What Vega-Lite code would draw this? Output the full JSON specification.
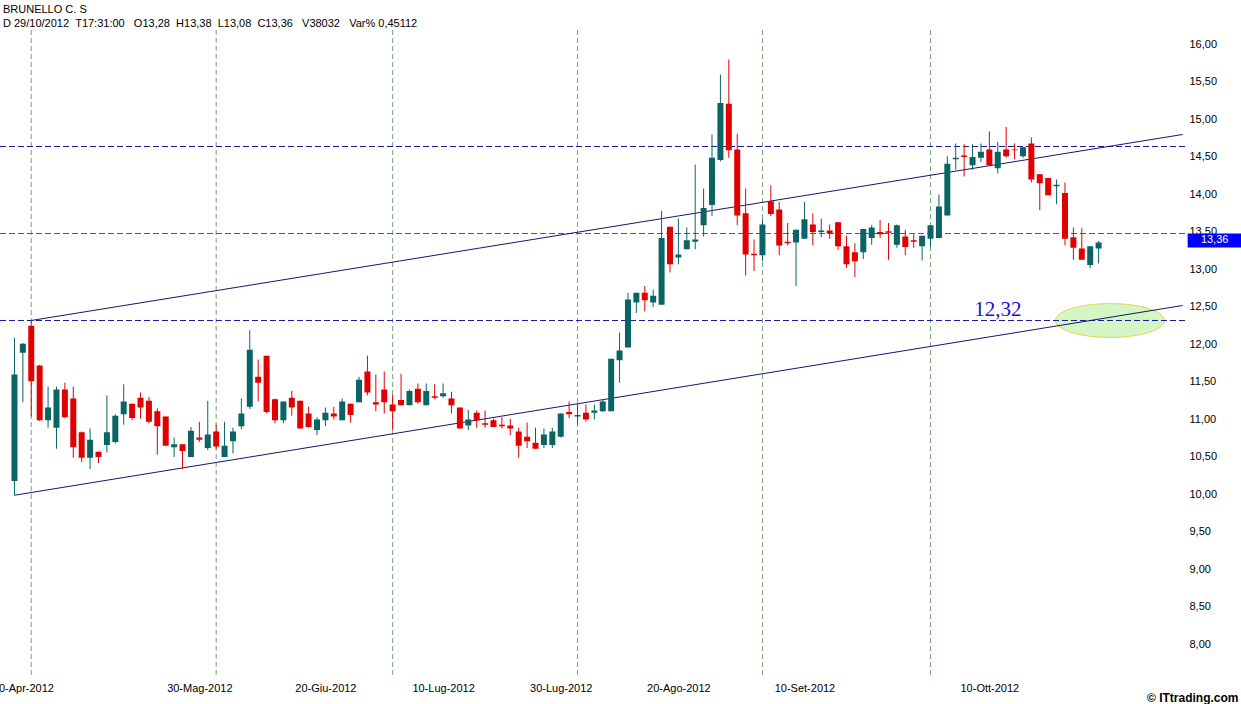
{
  "$schema": "https://vega.github.io/schema/vega-lite/v6.json",
  "width": 1185,
  "height": 645,
  "autosize": {"type": "none"},
  "padding": {"left": 0, "top": 30, "right": 56, "bottom": 29},
  "background": "white",
  "title": {
    "text": "BRUNELLO C. S",
    "subtitle": "D 29/10/2012\u00a0\u00a0T17:31:00\u00a0\u00a0\u00a0O13,28\u00a0\u00a0H13,38\u00a0\u00a0L13,08\u00a0\u00a0C13,36\u00a0\u00a0\u00a0V38032\u00a0\u00a0\u00a0Var% 0,45112",
    "anchor": "start",
    "frame": "group",
    "dx": 3,
    "offset": 1,
    "font": "Liberation Sans",
    "fontSize": 11,
    "fontWeight": "normal",
    "color": "#000000",
    "subtitleFont": "Liberation Sans",
    "subtitleFontSize": 11,
    "subtitleColor": "#000000",
    "subtitlePadding": 3
  },
  "datasets": {
    "candles": [
      {"date": "2012-04-27", "open": 10.18, "high": 12.09, "low": 9.99, "close": 11.6},
      {"date": "2012-04-30", "open": 11.89, "high": 12.02, "low": 11.23, "close": 12.01},
      {"date": "2012-05-02", "open": 12.25, "high": 12.32, "low": 11.04, "close": 11.51},
      {"date": "2012-05-03", "open": 11.72, "high": 11.73, "low": 10.98, "close": 10.99},
      {"date": "2012-05-04", "open": 10.99, "high": 11.44, "low": 10.89, "close": 11.16},
      {"date": "2012-05-07", "open": 10.89, "high": 11.44, "low": 10.61, "close": 11.4},
      {"date": "2012-05-08", "open": 11.4, "high": 11.49, "low": 11.02, "close": 11.03},
      {"date": "2012-05-09", "open": 11.28, "high": 11.44, "low": 10.49, "close": 10.63},
      {"date": "2012-05-10", "open": 10.83, "high": 10.84, "low": 10.43, "close": 10.49},
      {"date": "2012-05-11", "open": 10.49, "high": 10.88, "low": 10.34, "close": 10.73},
      {"date": "2012-05-14", "open": 10.57, "high": 10.57, "low": 10.42, "close": 10.5},
      {"date": "2012-05-15", "open": 10.66, "high": 11.32, "low": 10.56, "close": 10.83},
      {"date": "2012-05-16", "open": 10.7, "high": 11.07, "low": 10.68, "close": 11.05},
      {"date": "2012-05-17", "open": 11.07, "high": 11.47, "low": 10.93, "close": 11.24},
      {"date": "2012-05-18", "open": 11.21, "high": 11.21, "low": 10.99, "close": 11.02},
      {"date": "2012-05-21", "open": 11.29, "high": 11.36, "low": 11.01, "close": 11.16},
      {"date": "2012-05-22", "open": 11.25, "high": 11.3, "low": 10.95, "close": 10.97},
      {"date": "2012-05-23", "open": 11.11, "high": 11.15, "low": 10.53, "close": 10.91},
      {"date": "2012-05-24", "open": 11.04, "high": 11.04, "low": 10.65, "close": 10.65},
      {"date": "2012-05-25", "open": 10.63, "high": 10.76, "low": 10.5, "close": 10.67},
      {"date": "2012-05-28", "open": 10.67, "high": 10.67, "low": 10.34, "close": 10.58},
      {"date": "2012-05-29", "open": 10.5, "high": 10.9, "low": 10.5, "close": 10.85},
      {"date": "2012-05-30", "open": 10.76, "high": 10.97, "low": 10.7, "close": 10.73},
      {"date": "2012-05-31", "open": 10.62, "high": 11.25, "low": 10.59, "close": 10.8},
      {"date": "2012-06-01", "open": 10.84, "high": 10.93, "low": 10.61, "close": 10.64},
      {"date": "2012-06-04", "open": 10.5, "high": 10.97, "low": 10.5, "close": 10.65},
      {"date": "2012-06-05", "open": 10.71, "high": 10.89, "low": 10.55, "close": 10.84},
      {"date": "2012-06-06", "open": 10.91, "high": 11.28, "low": 10.87, "close": 11.08},
      {"date": "2012-06-07", "open": 11.17, "high": 12.19, "low": 11.14, "close": 11.93},
      {"date": "2012-06-08", "open": 11.57, "high": 11.8, "low": 11.24, "close": 11.49},
      {"date": "2012-06-11", "open": 11.85, "high": 11.85, "low": 11.08, "close": 11.1},
      {"date": "2012-06-12", "open": 11.27, "high": 11.28, "low": 10.95, "close": 10.99},
      {"date": "2012-06-13", "open": 10.99, "high": 11.24, "low": 10.95, "close": 11.24},
      {"date": "2012-06-14", "open": 11.29, "high": 11.38, "low": 11.05, "close": 11.16},
      {"date": "2012-06-15", "open": 11.25, "high": 11.25, "low": 10.88, "close": 10.88},
      {"date": "2012-06-18", "open": 11.08, "high": 11.17, "low": 10.89, "close": 10.9},
      {"date": "2012-06-19", "open": 10.86, "high": 11.03, "low": 10.79, "close": 11.0},
      {"date": "2012-06-20", "open": 10.99, "high": 11.16, "low": 10.91, "close": 11.09},
      {"date": "2012-06-21", "open": 11.08, "high": 11.17, "low": 11.0, "close": 11.04},
      {"date": "2012-06-22", "open": 10.99, "high": 11.28, "low": 10.99, "close": 11.24},
      {"date": "2012-06-25", "open": 11.21, "high": 11.21, "low": 10.96, "close": 11.06},
      {"date": "2012-06-26", "open": 11.23, "high": 11.57, "low": 11.23, "close": 11.53},
      {"date": "2012-06-27", "open": 11.64, "high": 11.85, "low": 11.32, "close": 11.36},
      {"date": "2012-06-28", "open": 11.23, "high": 11.6, "low": 11.11, "close": 11.2},
      {"date": "2012-06-29", "open": 11.4, "high": 11.64, "low": 11.08, "close": 11.23},
      {"date": "2012-07-02", "open": 11.2, "high": 11.33, "low": 10.86, "close": 11.11},
      {"date": "2012-07-03", "open": 11.26, "high": 11.61, "low": 11.19, "close": 11.19},
      {"date": "2012-07-04", "open": 11.19, "high": 11.4, "low": 11.19, "close": 11.38},
      {"date": "2012-07-05", "open": 11.41, "high": 11.48, "low": 11.21, "close": 11.23},
      {"date": "2012-07-06", "open": 11.19, "high": 11.48, "low": 11.19, "close": 11.38},
      {"date": "2012-07-09", "open": 11.31, "high": 11.47, "low": 11.27, "close": 11.29},
      {"date": "2012-07-10", "open": 11.31, "high": 11.48, "low": 11.29, "close": 11.35},
      {"date": "2012-07-11", "open": 11.28, "high": 11.37, "low": 11.08, "close": 11.19},
      {"date": "2012-07-12", "open": 11.16, "high": 11.16, "low": 10.88, "close": 10.88},
      {"date": "2012-07-13", "open": 10.92, "high": 11.13, "low": 10.86, "close": 11.0},
      {"date": "2012-07-16", "open": 11.09, "high": 11.12, "low": 10.89, "close": 10.99},
      {"date": "2012-07-17", "open": 10.95, "high": 11.12, "low": 10.89, "close": 10.93},
      {"date": "2012-07-18", "open": 10.99, "high": 11.01, "low": 10.9, "close": 10.9},
      {"date": "2012-07-19", "open": 10.93, "high": 11.03, "low": 10.88, "close": 10.91},
      {"date": "2012-07-20", "open": 10.92, "high": 11.01, "low": 10.79, "close": 10.88},
      {"date": "2012-07-23", "open": 10.84, "high": 10.89, "low": 10.49, "close": 10.65},
      {"date": "2012-07-24", "open": 10.77, "high": 10.96, "low": 10.62, "close": 10.71},
      {"date": "2012-07-25", "open": 10.69, "high": 10.89, "low": 10.61, "close": 10.61},
      {"date": "2012-07-26", "open": 10.66, "high": 10.88, "low": 10.62, "close": 10.8},
      {"date": "2012-07-27", "open": 10.66, "high": 10.89, "low": 10.62, "close": 10.84},
      {"date": "2012-07-30", "open": 10.77, "high": 11.08, "low": 10.76, "close": 11.08},
      {"date": "2012-07-31", "open": 11.1, "high": 11.24, "low": 11.02, "close": 11.07},
      {"date": "2012-08-01", "open": 11.04, "high": 11.21, "low": 10.93, "close": 11.06},
      {"date": "2012-08-02", "open": 11.09, "high": 11.2, "low": 10.97, "close": 11.0},
      {"date": "2012-08-03", "open": 11.09, "high": 11.2, "low": 11.0, "close": 11.12},
      {"date": "2012-08-06", "open": 11.11, "high": 11.27, "low": 11.1, "close": 11.24},
      {"date": "2012-08-07", "open": 11.11, "high": 11.81, "low": 11.11, "close": 11.81},
      {"date": "2012-08-08", "open": 11.79, "high": 12.16, "low": 11.49, "close": 11.92},
      {"date": "2012-08-09", "open": 11.96, "high": 12.69, "low": 11.96, "close": 12.6},
      {"date": "2012-08-10", "open": 12.56, "high": 12.69, "low": 12.42, "close": 12.69},
      {"date": "2012-08-13", "open": 12.69, "high": 12.78, "low": 12.44, "close": 12.59},
      {"date": "2012-08-14", "open": 12.56, "high": 12.73, "low": 12.5, "close": 12.65},
      {"date": "2012-08-16", "open": 12.53, "high": 13.78, "low": 12.53, "close": 13.42},
      {"date": "2012-08-17", "open": 13.57, "high": 13.57, "low": 12.96, "close": 13.07},
      {"date": "2012-08-20", "open": 13.16, "high": 13.68, "low": 13.07, "close": 13.2},
      {"date": "2012-08-21", "open": 13.27, "high": 13.56, "low": 13.27, "close": 13.39},
      {"date": "2012-08-22", "open": 13.37, "high": 14.4, "low": 13.27, "close": 13.4},
      {"date": "2012-08-23", "open": 13.59, "high": 14.08, "low": 13.44, "close": 13.82},
      {"date": "2012-08-24", "open": 13.86, "high": 14.8, "low": 13.71, "close": 14.49},
      {"date": "2012-08-27", "open": 14.46, "high": 15.6, "low": 14.44, "close": 15.22},
      {"date": "2012-08-28", "open": 15.21, "high": 15.8, "low": 14.49, "close": 14.59},
      {"date": "2012-08-29", "open": 14.6, "high": 14.81, "low": 13.59, "close": 13.72},
      {"date": "2012-08-30", "open": 13.75, "high": 14.08, "low": 12.92, "close": 13.2},
      {"date": "2012-08-31", "open": 13.21, "high": 13.4, "low": 12.98, "close": 13.19},
      {"date": "2012-09-03", "open": 13.19, "high": 13.67, "low": 13.11, "close": 13.6},
      {"date": "2012-09-04", "open": 13.91, "high": 14.12, "low": 13.71, "close": 13.74},
      {"date": "2012-09-05", "open": 13.8, "high": 13.9, "low": 13.19, "close": 13.32},
      {"date": "2012-09-06", "open": 13.37, "high": 13.62, "low": 13.32, "close": 13.35},
      {"date": "2012-09-07", "open": 13.36, "high": 13.53, "low": 12.78, "close": 13.53},
      {"date": "2012-09-10", "open": 13.41, "high": 13.9, "low": 13.41, "close": 13.67},
      {"date": "2012-09-11", "open": 13.6, "high": 13.75, "low": 13.32, "close": 13.5},
      {"date": "2012-09-12", "open": 13.5, "high": 13.68, "low": 13.43, "close": 13.52},
      {"date": "2012-09-13", "open": 13.52, "high": 13.6, "low": 13.41, "close": 13.48},
      {"date": "2012-09-14", "open": 13.63, "high": 13.63, "low": 13.26, "close": 13.31},
      {"date": "2012-09-17", "open": 13.31, "high": 13.45, "low": 13.02, "close": 13.07},
      {"date": "2012-09-18", "open": 13.23, "high": 13.35, "low": 12.9, "close": 13.11},
      {"date": "2012-09-19", "open": 13.23, "high": 13.54, "low": 13.14, "close": 13.54},
      {"date": "2012-09-20", "open": 13.42, "high": 13.59, "low": 13.33, "close": 13.56},
      {"date": "2012-09-21", "open": 13.5, "high": 13.66, "low": 13.42, "close": 13.47},
      {"date": "2012-09-24", "open": 13.51, "high": 13.62, "low": 13.13, "close": 13.49},
      {"date": "2012-09-25", "open": 13.33, "high": 13.6, "low": 13.29, "close": 13.59},
      {"date": "2012-09-26", "open": 13.44, "high": 13.53, "low": 13.19, "close": 13.3},
      {"date": "2012-09-27", "open": 13.39, "high": 13.47, "low": 13.29, "close": 13.37},
      {"date": "2012-09-28", "open": 13.31, "high": 13.45, "low": 13.12, "close": 13.45},
      {"date": "2012-10-01", "open": 13.41, "high": 13.59, "low": 13.3, "close": 13.59},
      {"date": "2012-10-02", "open": 13.42, "high": 14.0, "low": 13.42, "close": 13.84},
      {"date": "2012-10-03", "open": 13.72, "high": 14.51, "low": 13.72, "close": 14.41},
      {"date": "2012-10-04", "open": 14.47, "high": 14.68, "low": 14.33, "close": 14.49},
      {"date": "2012-10-05", "open": 14.52, "high": 14.67, "low": 14.24, "close": 14.5},
      {"date": "2012-10-08", "open": 14.39, "high": 14.67, "low": 14.33, "close": 14.5},
      {"date": "2012-10-09", "open": 14.49, "high": 14.68, "low": 14.43, "close": 14.57},
      {"date": "2012-10-10", "open": 14.6, "high": 14.84, "low": 14.38, "close": 14.39},
      {"date": "2012-10-11", "open": 14.35, "high": 14.7, "low": 14.28, "close": 14.57},
      {"date": "2012-10-12", "open": 14.6, "high": 14.9, "low": 14.49, "close": 14.51},
      {"date": "2012-10-15", "open": 14.6, "high": 14.68, "low": 14.47, "close": 14.59},
      {"date": "2012-10-16", "open": 14.51, "high": 14.63, "low": 14.49, "close": 14.63},
      {"date": "2012-10-17", "open": 14.68, "high": 14.76, "low": 14.16, "close": 14.2},
      {"date": "2012-10-18", "open": 14.27, "high": 14.27, "low": 13.79, "close": 14.15},
      {"date": "2012-10-19", "open": 14.22, "high": 14.22, "low": 13.99, "close": 13.99},
      {"date": "2012-10-22", "open": 14.11, "high": 14.2, "low": 13.87, "close": 14.13},
      {"date": "2012-10-23", "open": 14.02, "high": 14.16, "low": 13.32, "close": 13.41},
      {"date": "2012-10-24", "open": 13.43, "high": 13.56, "low": 13.13, "close": 13.29},
      {"date": "2012-10-25", "open": 13.28, "high": 13.55, "low": 13.13, "close": 13.13},
      {"date": "2012-10-26", "open": 13.06, "high": 13.31, "low": 13.02, "close": 13.31},
      {"date": "2012-10-29", "open": 13.28, "high": 13.38, "low": 13.08, "close": 13.36}
    ],
    "months": [
      {"date": "2012-05-02"}, {"date": "2012-06-01"}, {"date": "2012-07-02"},
      {"date": "2012-08-01"}, {"date": "2012-09-03"}, {"date": "2012-10-01"}
    ],
    "levels": [{"level": 14.64}, {"level": 12.32}],
    "midlevel": [{"level": 13.48}],
    "trend": [
      {"line": "upper", "date": "2012-05-02", "value": 12.32},
      {"line": "upper", "date": "2012-11-12", "value": 14.8},
      {"line": "lower", "date": "2012-04-27", "value": 9.99},
      {"line": "lower", "date": "2012-11-12", "value": 12.52}
    ],
    "zone": [{"date": "2012-10-30", "level": 12.32}],
    "note": [{"date": "2012-10-11", "level": 12.32, "label": "12,32"}],
    "last": [{"date": "2012-11-12", "close": 13.36, "label": "13,36"}]
  },
  "layer": [
    {
      "data": {"name": "months"},
      "mark": {"type": "rule", "color": "#7aa27a", "strokeDash": [5, 3], "strokeWidth": 1},
      "encoding": {
        "x": {
          "field": "date",
          "type": "ordinal",
          "scale": {
            "type": "point",
            "padding": 1.179,
            "align": 0.86,
            "domain": ["2012-04-27","2012-04-30","2012-05-02","2012-05-03","2012-05-04","2012-05-07","2012-05-08","2012-05-09","2012-05-10","2012-05-11","2012-05-14","2012-05-15","2012-05-16","2012-05-17","2012-05-18","2012-05-21","2012-05-22","2012-05-23","2012-05-24","2012-05-25","2012-05-28","2012-05-29","2012-05-30","2012-05-31","2012-06-01","2012-06-04","2012-06-05","2012-06-06","2012-06-07","2012-06-08","2012-06-11","2012-06-12","2012-06-13","2012-06-14","2012-06-15","2012-06-18","2012-06-19","2012-06-20","2012-06-21","2012-06-22","2012-06-25","2012-06-26","2012-06-27","2012-06-28","2012-06-29","2012-07-02","2012-07-03","2012-07-04","2012-07-05","2012-07-06","2012-07-09","2012-07-10","2012-07-11","2012-07-12","2012-07-13","2012-07-16","2012-07-17","2012-07-18","2012-07-19","2012-07-20","2012-07-23","2012-07-24","2012-07-25","2012-07-26","2012-07-27","2012-07-30","2012-07-31","2012-08-01","2012-08-02","2012-08-03","2012-08-06","2012-08-07","2012-08-08","2012-08-09","2012-08-10","2012-08-13","2012-08-14","2012-08-16","2012-08-17","2012-08-20","2012-08-21","2012-08-22","2012-08-23","2012-08-24","2012-08-27","2012-08-28","2012-08-29","2012-08-30","2012-08-31","2012-09-03","2012-09-04","2012-09-05","2012-09-06","2012-09-07","2012-09-10","2012-09-11","2012-09-12","2012-09-13","2012-09-14","2012-09-17","2012-09-18","2012-09-19","2012-09-20","2012-09-21","2012-09-24","2012-09-25","2012-09-26","2012-09-27","2012-09-28","2012-10-01","2012-10-02","2012-10-03","2012-10-04","2012-10-05","2012-10-08","2012-10-09","2012-10-10","2012-10-11","2012-10-12","2012-10-15","2012-10-16","2012-10-17","2012-10-18","2012-10-19","2012-10-22","2012-10-23","2012-10-24","2012-10-25","2012-10-26","2012-10-29","2012-10-30","2012-10-31","2012-11-01","2012-11-02","2012-11-05","2012-11-06","2012-11-07","2012-11-08","2012-11-09","2012-11-12"]
          },
          "axis": {
            "values": ["2012-04-30", "2012-05-30", "2012-06-20", "2012-07-10", "2012-07-30", "2012-08-20", "2012-09-10", "2012-10-10"],
            "labelExpr": "slice(datum.value, 8, 10) + '-' + ['', 'Gen', 'Feb', 'Mar', 'Apr', 'Mag', 'Giu', 'Lug', 'Ago', 'Set', 'Ott', 'Nov', 'Dic'][toNumber(slice(datum.value, 5, 7))] + '-' + slice(datum.value, 0, 4)",
            "title": "© ITtrading.com",
            "titleFont": "Liberation Sans",
            "titleFontWeight": "bold",
            "titleFontSize": 12,
            "titleColor": "#000000",
            "titleX": 1238,
            "titleY": 26,
            "titleAlign": "right",
            "titleBaseline": "alphabetic",
            "domain": false,
            "ticks": false,
            "grid": false,
            "labelAngle": 0,
            "labelPadding": 7,
            "labelFont": "Liberation Sans",
            "labelFontSize": 11,
            "labelColor": "#000000",
            "labelOverlap": false,
            "labelFlush": false
          }
        }
      }
    },
    {
      "data": {"name": "zone"},
      "mark": {
        "type": "point",
        "shape": "M-1,0 A1,0.31 0 1,1 1,0 A1,0.31 0 1,1 -1,0 Z",
        "size": 11900,
        "filled": true,
        "fill": "#d4f5c4",
        "stroke": "#e2d84a",
        "strokeWidth": 1,
        "opacity": 1,
        "xOffset": 3
      },
      "encoding": {
        "x": {"field": "date", "type": "ordinal"},
        "y": {"field": "level", "type": "quantitative"}
      }
    },
    {
      "data": {"name": "levels"},
      "mark": {"type": "rule", "color": "#1a1a9c", "strokeDash": [6, 3], "strokeWidth": 1},
      "encoding": {
        "y": {"field": "level", "type": "quantitative"}
      }
    },
    {
      "data": {"name": "midlevel"},
      "mark": {"type": "rule", "color": "#3558cc", "strokeDash": [6, 3], "strokeWidth": 1},
      "encoding": {
        "y": {"field": "level", "type": "quantitative"}
      }
    },
    {
      "data": {"name": "trend"},
      "mark": {"type": "line", "color": "#16166e", "strokeWidth": 1},
      "encoding": {
        "x": {"field": "date", "type": "ordinal"},
        "y": {"field": "value", "type": "quantitative"},
        "detail": {"field": "line", "type": "nominal"}
      }
    },
    {
      "data": {"name": "candles"},
      "mark": {"type": "rule", "strokeWidth": 1},
      "encoding": {
        "x": {"field": "date", "type": "ordinal"},
        "y": {
          "field": "low",
          "type": "quantitative",
          "scale": {"domain": [7.5933, 16.1933], "nice": false, "zero": false},
          "axis": {
            "orient": "right",
            "values": [8, 8.5, 9, 9.5, 10, 10.5, 11, 11.5, 12, 12.5, 13, 13.5, 14, 14.5, 15, 15.5, 16],
            "labelExpr": "replace(format(datum.value, '.2f'), '.', ',')",
            "title": null,
            "domain": false,
            "ticks": false,
            "grid": false,
            "labelPadding": 4,
            "labelFont": "Liberation Sans",
            "labelFontSize": 11,
            "labelColor": "#000000"
          }
        },
        "y2": {"field": "high"},
        "color": {
          "condition": {"test": "datum.close >= datum.open", "value": "#0a6464"},
          "value": "#e00000"
        }
      }
    },
    {
      "data": {"name": "candles"},
      "mark": {"type": "bar", "size": 6},
      "encoding": {
        "x": {"field": "date", "type": "ordinal"},
        "y": {"field": "open", "type": "quantitative"},
        "y2": {"field": "close"},
        "color": {
          "condition": {"test": "datum.close >= datum.open", "value": "#0a6464"},
          "value": "#e00000"
        }
      }
    },
    {
      "data": {"name": "note"},
      "mark": {
        "type": "text",
        "font": "Liberation Serif",
        "fontSize": 21,
        "color": "#1414c8",
        "align": "center",
        "baseline": "alphabetic",
        "dy": -4
      },
      "encoding": {
        "x": {"field": "date", "type": "ordinal"},
        "y": {"field": "level", "type": "quantitative"},
        "text": {"field": "label"}
      }
    },
    {
      "data": {"name": "last"},
      "layer": [
        {
          "mark": {
            "type": "point",
            "shape": "M-1,-0.26 L1,-0.26 L1,0.26 L-1,0.26 Z",
            "size": 2916,
            "filled": true,
            "fill": "#0000ff",
            "strokeWidth": 0,
            "opacity": 1,
            "xOffset": 32,
            "yOffset": -2
          },
          "encoding": {
            "x": {"field": "date", "type": "ordinal"},
            "y": {"field": "close", "type": "quantitative"}
          }
        },
        {
          "mark": {
            "type": "text",
            "font": "Liberation Sans",
            "fontSize": 11,
            "color": "#ffffff",
            "align": "center",
            "baseline": "middle",
            "dx": 32,
            "dy": -2
          },
          "encoding": {
            "x": {"field": "date", "type": "ordinal"},
            "y": {"field": "close", "type": "quantitative"},
            "text": {"field": "label"}
          }
        }
      ]
    }
  ],
  "config": {
    "view": {"stroke": null},
    "font": "Liberation Sans"
  }
}
